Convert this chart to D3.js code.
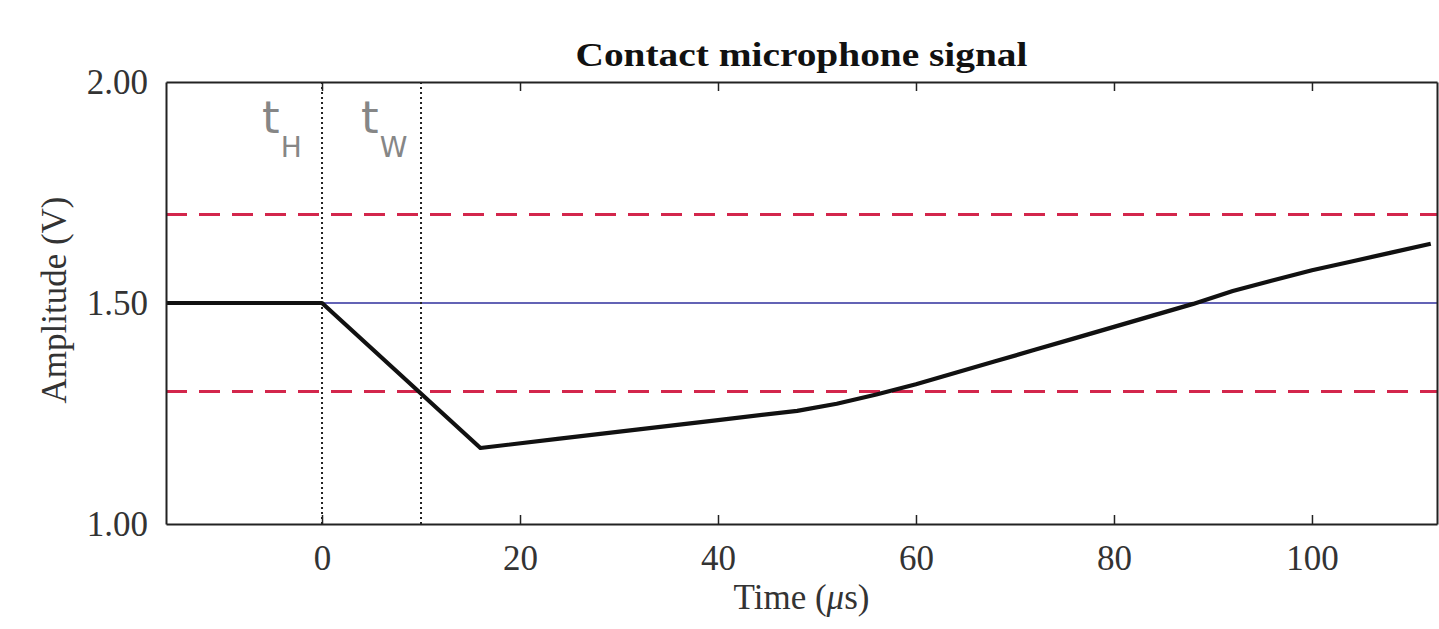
<!DOCTYPE html>
<html>
<head>
<meta charset="utf-8">
<script src="https://cdn.jsdelivr.net/npm/d3@7"></script>
<style>
  body { margin: 0; background: #fff; }
  svg text { font-family: "Liberation Serif", "Times New Roman", serif; }
</style>
</head>
<body>
<div id="chart"></div>
<script>
// signal (time in µs, amplitude in V)
const signalTime = [-16, 0, 16, 24, 32, 40, 48, 52, 56, 60, 64, 68, 72, 76, 80, 84, 88, 92, 96, 100, 104, 108, 112];
const signalAmp  = [1.5, 1.5, 1.172, 1.193, 1.214, 1.235, 1.256, 1.272, 1.293, 1.316, 1.342, 1.368, 1.394, 1.420, 1.446, 1.472, 1.498, 1.527, 1.551, 1.574, 1.594, 1.614, 1.634];

const baseline = 1.5;
const thresholds = [1.7, 1.3];
const markers = [{t: 0, label: "t", sub: "H"}, {t: 10, label: "t", sub: "W"}];

const xTicks = [0, 20, 40, 60, 80, 100];
const yTicks = [1.0, 1.5, 2.0];
const xDomain = [-15.76, 112.63];
const yDomain = [1.0, 2.0];

var width = 1439, height = 629;
var margin = {top: 82, right: 2, bottom: 105, left: 166};
var plotW = width - margin.left - margin.right,
    plotH = height - margin.top - margin.bottom;

var svg = d3.select("#chart")
    .append("svg")
    .attr("width", width)
    .attr("height", height);

var g = svg.append("g")
    .attr("transform", "translate(" + margin.left + "," + margin.top + ")");

var x = d3.scaleLinear().domain(xDomain).range([0, plotW]);
var y = d3.scaleLinear().domain(yDomain).range([plotH, 0]);

svg.append("defs").append("clipPath")
    .attr("id", "plotClip")
    .append("rect")
    .attr("width", plotW)
    .attr("height", plotH);

var plot = g.append("g").attr("clip-path", "url(#plotClip)");

// threshold lines
plot.selectAll(".thr")
    .data(thresholds)
    .enter()
    .append("line")
    .attr("x1", 0).attr("x2", plotW)
    .attr("y1", d => y(d)).attr("y2", d => y(d))
    .style("stroke", "#d3264c")
    .style("stroke-width", 3)
    .style("stroke-dasharray", "21,12");

// baseline
plot.append("line")
    .attr("x1", 0).attr("x2", plotW)
    .attr("y1", y(baseline)).attr("y2", y(baseline))
    .style("stroke", "#2f2f9c")
    .style("stroke-width", 1.6);

// dotted time markers
plot.selectAll(".marker")
    .data(markers)
    .enter()
    .append("line")
    .attr("x1", d => x(d.t)).attr("x2", d => x(d.t))
    .attr("y1", 0).attr("y2", plotH)
    .style("stroke", "#222")
    .style("stroke-width", 2)
    .style("stroke-dasharray", "2,3");

// signal
var signal = signalTime.map((t, i) => ({t: t, v: signalAmp[i]}));
plot.append("path")
    .datum(signal)
    .attr("d", d3.line().x(d => x(d.t)).y(d => y(d.v)))
    .style("fill", "none")
    .style("stroke", "#111")
    .style("stroke-width", 4.2)
    .style("stroke-linejoin", "round");

// marker labels
var lab = g.selectAll(".mlabel")
    .data(markers)
    .enter()
    .append("text")
    .attr("x", d => x(d.t) - 60)
    .attr("y", 51)
    .style("font-family", "'DejaVu Sans', sans-serif")
    .style("fill", "#868686")
    .style("font-size", "45px");
lab.append("tspan").text(d => d.label);
lab.append("tspan")
    .attr("dy", 24)
    .attr("dx", 1)
    .style("font-size", "28px")
    .text(d => d.sub);

// axes (ticks pointing inwards, box all round)
var axisStyle = sel => {
    sel.select(".domain").style("stroke", "#222").style("stroke-width", 2);
    sel.selectAll(".tick line").style("stroke", "#222").style("stroke-width", 1.5);
    sel.selectAll("text")
        .style("font-family", "'Liberation Serif', serif")
        .style("font-size", "35px")
        .style("fill", "#333");
};

g.append("g")
    .attr("transform", "translate(0," + plotH + ")")
    .call(d3.axisBottom(x).tickValues(xTicks).tickSizeInner(-9).tickSizeOuter(0).tickPadding(21))
    .call(axisStyle);

g.append("g")
    .call(d3.axisTop(x).tickValues(xTicks).tickSizeInner(-9).tickSizeOuter(0).tickFormat(""))
    .call(axisStyle);

g.append("g")
    .call(d3.axisLeft(y).tickValues(yTicks).tickFormat(d3.format(".2f")).tickSizeInner(0).tickSizeOuter(0).tickPadding(18))
    .call(axisStyle);

g.append("g")
    .attr("transform", "translate(" + plotW + ",0)")
    .call(d3.axisRight(y).tickValues(yTicks).tickSizeInner(0).tickSizeOuter(0).tickFormat(""))
    .call(axisStyle);

// title
svg.append("text")
    .attr("x", margin.left + plotW / 2)
    .attr("y", 66)
    .attr("text-anchor", "middle")
    .style("font-weight", "bold")
    .style("font-size", "34px")
    .attr("textLength", 452)
    .attr("lengthAdjust", "spacingAndGlyphs")
    .style("fill", "#111")
    .text("Contact microphone signal");

// x label
var xl = svg.append("text")
    .attr("x", margin.left + plotW / 2)
    .attr("y", 609)
    .attr("text-anchor", "middle")
    .style("font-size", "35px")
    .style("fill", "#333");
xl.append("tspan").text("Time (");
xl.append("tspan").style("font-style", "italic").text("\u03bc");
xl.append("tspan").text("s)");

// y label
svg.append("text")
    .attr("transform", "translate(66," + (margin.top + plotH / 2 - 3) + ") rotate(-90)")
    .attr("text-anchor", "middle")
    .style("font-size", "35px")
    .style("fill", "#333")
    .text("Amplitude (V)");
</script>
</body>
</html>
